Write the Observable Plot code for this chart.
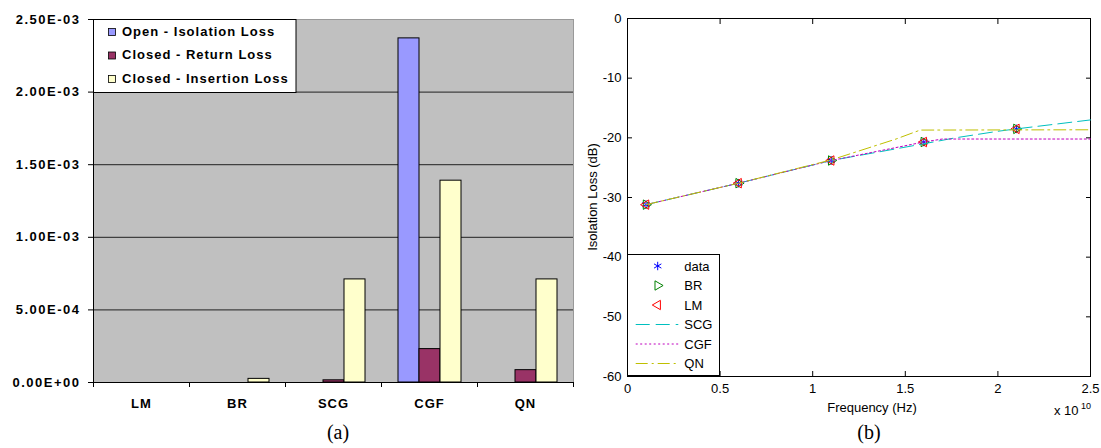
<!DOCTYPE html>
<html><head><meta charset="utf-8">
<script src="https://cdn.jsdelivr.net/npm/d3@7"></script>
<script src="https://cdn.jsdelivr.net/npm/@observablehq/plot@0.6"></script>
<style>
body{margin:0;background:#fff;}
#wrap{position:relative;width:1101px;height:448px;overflow:hidden;background:#fff;font-family:"Liberation Sans",Arial,sans-serif;}
#wrap > svg{position:absolute;top:0;}
.pa2 g[aria-label="y-axis tick label"] text{letter-spacing:1.5px;}
.pa2 g[aria-label="x-axis tick label"] text{letter-spacing:1px;}
</style></head><body><div id="wrap"></div>
<script>
// ---------- Panel (a) data ----------
const categories = ["LM", "BR", "SCG", "CGF", "QN"];
const seriesNames = ["Open - Isolation Loss", "Closed - Return Loss", "Closed - Insertion Loss"];
const openIsolationLoss   = [0, 0, 0, 2.37e-3, 0];
const closedReturnLoss    = [0, 0, 1.5e-5, 2.3e-4, 8.5e-5];
const closedInsertionLoss = [0, 2.5e-5, 7.1e-4, 1.39e-3, 7.1e-4];
const barColors = ["#9999ff", "#993366", "#ffffcc"];
const yTicksA = [0, 5e-4, 1e-3, 1.5e-3, 2e-3, 2.5e-3];

// ---------- Panel (b) data ----------
const freqHz     = [1e9, 6e9, 1.1e10, 1.6e10, 2.1e10];
const measuredDb = [-31.2, -27.6, -23.8, -20.7, -18.5];
const brDb       = [-31.2, -27.6, -23.8, -20.7, -18.5];
const lmDb       = [-31.2, -27.6, -23.8, -20.7, -18.5];
const scgFreq = [1e9, 6e9, 1.1e10, 1.6e10, 1.77e10, 2.0e10, 2.1e10, 2.5e10];
const scgDb   = [-31.2, -27.6, -23.8, -21.0, -20.0, -18.9, -18.5, -17.0];
const cgfFreq = [1e9, 6e9, 1.1e10, 1.6e10, 1.7e10, 2.5e10];
const cgfDb   = [-31.2, -27.6, -23.8, -20.7, -20.2, -20.2];
const qnFreq  = [1e9, 6e9, 1.1e10, 1.25e10, 1.45e10, 1.58e10, 2.5e10];
const qnDb    = [-31.2, -27.6, -23.7, -22.2, -20.2, -18.7, -18.65];
const xTicksB = [0, 0.5e10, 1e10, 1.5e10, 2e10, 2.5e10];
const yTicksB = [0, -10, -20, -30, -40, -50, -60];
const legendB = ["data", "BR", "LM", "SCG", "CGF", "QN"];
const colorsB = {data: "#0000ff", BR: "#008000", LM: "#ff0000", SCG: "#00bfbf", CGF: "#bf00bf", QN: "#bfbf00"};
const dashB = {SCG: "14,6", CGF: "2,2.5", QN: "12,4,2,4"};

const FONT = '"Liberation Sans", Arial, sans-serif';
const wrap = document.getElementById("wrap");

function sciLabel(d) {
  const [m, e] = d.toExponential(2).split("e");
  const n = +e;
  return m + "E" + (n < 0 ? "-" : "+") + String(Math.abs(n)).padStart(2, "0");
}

const dimsA = {width: 600, height: 420, marginLeft: 93, marginRight: 27, marginTop: 19, marginBottom: 38};
const styleA = {fontFamily: FONT, background: "transparent", overflow: "visible", color: "black"};

// ---------- Panel (a): background, grid, axes & border (category index scale) ----------
const plotA2 = Plot.plot({
  ...dimsA, style: styleA,
  x: {domain: [0, categories.length], label: null},
  y: {domain: [0, 0.0025], label: null},
  marks: [
    Plot.frame({fill: "#c0c0c0", stroke: "none"}),
    Plot.ruleY(yTicksA.slice(1, -1), {stroke: "#404040", strokeWidth: 1.3}),
    Plot.frame({anchor: "top", stroke: "#999999"}),
    Plot.frame({anchor: "right", stroke: "#999999"}),
    Plot.frame({anchor: "left", stroke: "black"}),
    Plot.frame({anchor: "bottom", stroke: "black"}),
    Plot.axisY(yTicksA, {anchor: "left", tickSize: 5, tickPadding: 8, tickFormat: sciLabel, fontSize: 13, fontWeight: "bold", label: null}),
    Plot.axisX(d3.range(categories.length + 1), {anchor: "bottom", tickSize: 5, tickFormat: () => "", label: null}),
    Plot.axisX(categories.map((c, i) => i + 0.5), {anchor: "bottom", tickSize: 0, tickPadding: 16,
      tickFormat: v => categories[Math.floor(v)], fontSize: 13, fontWeight: "bold", label: null})
  ]
});
plotA2.classList.add("pa2");
plotA2.style.left = "0px";
wrap.appendChild(plotA2);

// ---------- Panel (a): grouped bars (faceted by category) ----------
const seriesArrays = [openIsolationLoss, closedReturnLoss, closedInsertionLoss];
const rowsA = [];
categories.forEach((c, i) => seriesArrays.forEach((arr, j) => rowsA.push({category: c, series: seriesNames[j], value: arr[i]})));

const plotA = Plot.plot({
  ...dimsA, style: styleA,
  fx: {domain: categories, padding: 0, axis: null, label: null},
  x: {domain: seriesNames, paddingInner: 0, paddingOuter: 0.73, axis: null, label: null},
  y: {domain: [0, 0.0025], axis: null, label: null},
  color: {domain: seriesNames, range: barColors},
  marks: [
    Plot.barY(rowsA, {fx: "category", x: "series", y: "value", fill: "series", stroke: "black", strokeWidth: 1})
  ]
});
plotA.style.left = "0px";
wrap.appendChild(plotA);

// ---------- Panel (b) ----------
const pointRows = freqHz.map((f, i) => ({f, data: measuredDb[i], br: brDb[i], lm: lmDb[i]}));
const toRows = (fs, ds) => fs.map((f, i) => ({f, db: ds[i]}));

const plotB = Plot.plot({
  width: 541, height: 420,
  marginLeft: 67, marginRight: 11, marginTop: 18, marginBottom: 44,
  style: {fontFamily: FONT, background: "transparent", overflow: "visible", color: "black"},
  x: {domain: [0, 2.5e10], label: null},
  y: {domain: [-60, 0], label: null},
  marks: [
    Plot.frame({stroke: "black"}),
    Plot.axisY(yTicksB, {anchor: "left", tickSize: 5, dx: 5, tickPadding: 6, tickFormat: d => String(d), fontSize: 13, label: null}),
    Plot.axisY(yTicksB, {anchor: "right", tickSize: 5, dx: -5, tickFormat: () => "", label: null}),
    Plot.axisX(xTicksB, {anchor: "bottom", tickSize: 5, dy: -5, tickPadding: 7, tickFormat: d => String(d / 1e10), fontSize: 13, label: null}),
    Plot.axisX(xTicksB, {anchor: "top", tickSize: 5, dy: 5, tickFormat: () => "", label: null}),
    Plot.dot(pointRows, {x: "f", y: "data", symbol: "asterisk", r: 4, stroke: colorsB.data, strokeWidth: 1}),
    Plot.dot(pointRows, {x: "f", y: "br", symbol: "triangle", rotate: 90, r: 3.5, stroke: colorsB.BR, fill: "none", strokeWidth: 1}),
    Plot.dot(pointRows, {x: "f", y: "lm", symbol: "triangle", rotate: -90, r: 3.5, stroke: colorsB.LM, fill: "none", strokeWidth: 1}),
    Plot.line(toRows(scgFreq, scgDb), {x: "f", y: "db", stroke: colorsB.SCG, strokeDasharray: dashB.SCG, strokeWidth: 1}),
    Plot.line(toRows(cgfFreq, cgfDb), {x: "f", y: "db", stroke: colorsB.CGF, strokeDasharray: dashB.CGF, strokeWidth: 1}),
    Plot.line(toRows(qnFreq, qnDb), {x: "f", y: "db", stroke: colorsB.QN, strokeDasharray: dashB.QN, strokeWidth: 1})
  ]
});
plotB.style.left = "560px";
wrap.appendChild(plotB);

// ---------- Overlay: legends, titles, captions ----------
const ov = d3.select("#wrap").append("svg")
  .attr("width", 1101).attr("height", 448).style("left", "0px")
  .style("font-family", FONT);

// legend (a)
ov.append("rect").attr("x", 93.5).attr("y", 19.5).attr("width", 202.5).attr("height", 73)
  .attr("fill", "white").attr("stroke", "black");
seriesNames.forEach((s, i) => {
  const y = 28.5 + 23.5 * i;
  ov.append("rect").attr("x", 108.5).attr("y", y).attr("width", 7).attr("height", 7)
    .attr("fill", barColors[i]).attr("stroke", "black").attr("stroke-width", 0.8);
  ov.append("text").attr("x", 122).attr("y", y + 7).text(s)
    .attr("font-size", 13).attr("font-weight", "bold").attr("letter-spacing", "1px");
});

// legend (b)
ov.append("rect").attr("x", 627.5).attr("y", 254.5).attr("width", 92).attr("height", 121)
  .attr("fill", "white").attr("stroke", "black");
legendB.forEach((name, i) => {
  const y = 266 + 19.5 * i;
  const c = colorsB[name];
  if (name === "data") {
    ov.append("path").attr("d", d3.symbol(d3.symbolAsterisk, 50)()).attr("transform", `translate(657.7,${y})`)
      .attr("stroke", c).attr("fill", "none");
  } else if (name === "BR" || name === "LM") {
    ov.append("path").attr("d", d3.symbol(d3.symbolTriangle, 38)())
      .attr("transform", `translate(657.7,${y}) rotate(${name === "BR" ? 90 : -90})`)
      .attr("stroke", c).attr("fill", "none");
  } else {
    ov.append("line").attr("x1", 635.7).attr("x2", 678.3).attr("y1", y).attr("y2", y)
      .attr("stroke", c).attr("stroke-dasharray", dashB[name]);
  }
  ov.append("text").attr("x", 684.3).attr("y", y + 4.7).text(name).attr("font-size", 13);
});

// axis titles (b)
ov.append("text").attr("transform", "translate(596.5,197) rotate(-90)").attr("text-anchor", "middle")
  .attr("font-size", 13).text("Isolation Loss (dB)");
ov.append("text").attr("x", 872).attr("y", 412).attr("text-anchor", "middle").attr("font-size", 13).text("Frequency (Hz)");
ov.append("text").attr("x", 1054).attr("y", 415).attr("font-size", 13).text("x 10");
ov.append("text").attr("x", 1081).attr("y", 409).attr("font-size", 9).text("10");

// captions
ov.append("text").attr("x", 338).attr("y", 439).attr("text-anchor", "middle")
  .attr("font-family", '"Liberation Serif", "Times New Roman", serif').attr("font-size", 20).text("(a)");
ov.append("text").attr("x", 869).attr("y", 439).attr("text-anchor", "middle")
  .attr("font-family", '"Liberation Serif", "Times New Roman", serif').attr("font-size", 20).text("(b)");
</script></body></html>
